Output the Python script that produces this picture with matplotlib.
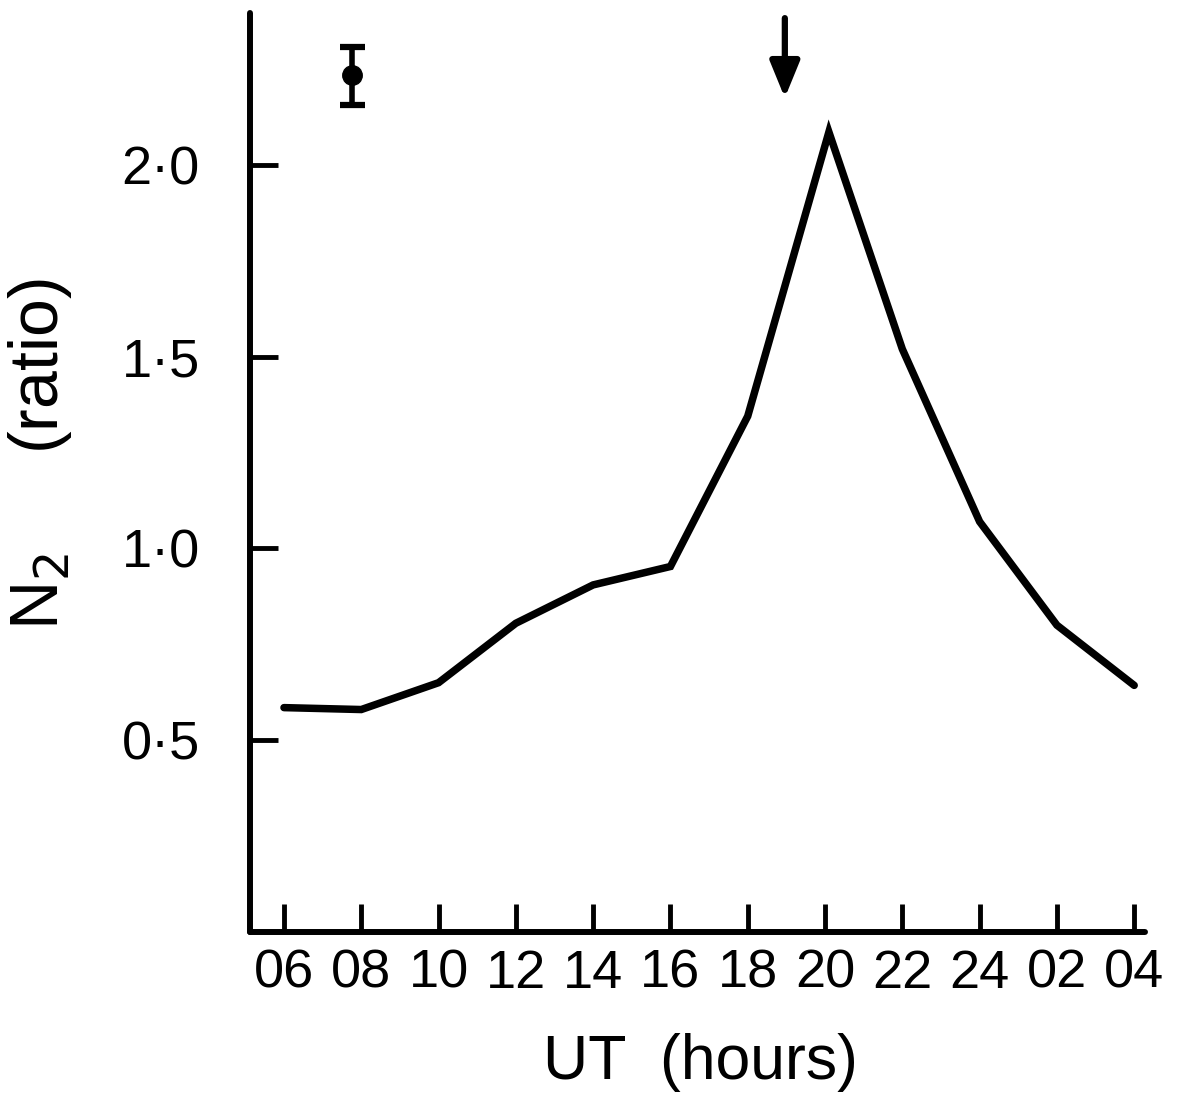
import matplotlib
matplotlib.use("Agg")
import matplotlib.pyplot as plt

# Data (UT hours, continuous past midnight)
hours = [6, 8, 10, 12, 14, 16, 18, 20.1, 22, 24, 26, 28]
n2_ratio = [0.585, 0.58, 0.65, 0.805, 0.905, 0.953, 1.345, 2.086, 1.52, 1.07, 0.80, 0.643]

tick_hours = [6, 8, 10, 12, 14, 16, 18, 20, 22, 24, 26, 28]
tick_labels = ["06", "08", "10", "12", "14", "16", "18", "20", "22", "24", "02", "04"]
ytick_vals = [0.5, 1.0, 1.5, 2.0]
ytick_labels = ["0·5", "1·0", "1·5", "2·0"]

# representative error bar
err_x = [7.76]
err_y = [2.234]
err_lo = [0.078]
err_hi = [0.073]

# arrow (event marker)
arrow_x = 18.96
arrow_y_start = 2.383
arrow_y_end = 2.175

plt.rcParams['font.family'] = ['Liberation Sans', 'DejaVu Sans']

fig = plt.figure(figsize=(11.78, 10.95), dpi=100)
ax = fig.add_axes([0.2122, 0.1489, 0.972 - 0.2122, 0.988 - 0.1489])

ax.plot(hours, n2_ratio, color='black', lw=5.4, solid_joinstyle='miter', solid_capstyle='round')

ax.errorbar(err_x, err_y, yerr=[err_lo, err_hi], fmt='o', color='black',
            markersize=14, capsize=9, capthick=4.5, elinewidth=4)

ax.annotate('', xy=(arrow_x, arrow_y_end), xytext=(arrow_x, arrow_y_start),
            arrowprops=dict(arrowstyle='-|>,head_length=2.2,head_width=0.9',
                            color='black', lw=4.5, shrinkA=0, shrinkB=0))

ax.set_xlim(5.12, 28.28)
ax.set_ylim(0, 2.396)

for s in ['top', 'right']:
    ax.spines[s].set_visible(False)
for s in ['left', 'bottom']:
    ax.spines[s].set_linewidth(4.3)
    ax.spines[s].set_capstyle('round')

ax.set_xticks(tick_hours)
ax.set_xticklabels(tick_labels, fontsize=39)
ax.set_yticks(ytick_vals)
ax.set_yticklabels(ytick_labels, fontsize=39)
ax.tick_params(axis='x', direction='in', length=20, width=3.5, pad=12)
ax.tick_params(axis='y', direction='in', length=20, width=3.5, pad=36)

fig.text(0.595, 0.03, "UT  (hours)", fontsize=45, ha='center', va='center')
fig.text(0.034, 0.585, "N$_2$     (ratio)", fontsize=49, ha='center', va='center',
         rotation=90)

fig.savefig("out.png", dpi=100)
